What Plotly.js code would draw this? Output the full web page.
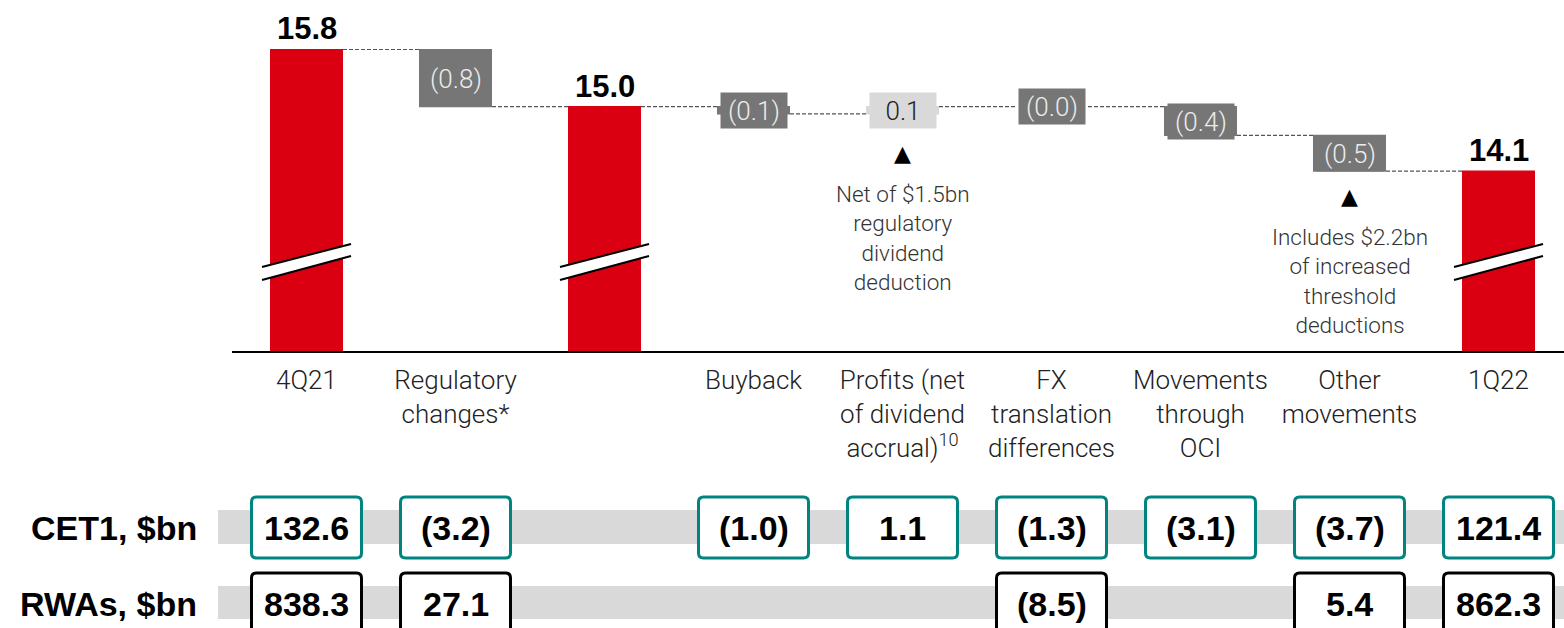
<!DOCTYPE html>
<html><head><meta charset="utf-8">
<script src="https://cdn.plot.ly/plotly-3.0.1.min.js"></script>
<style>html,body{margin:0;padding:0;background:#fff;} #chart{width:1564px;height:628px;}</style>
</head><body><div id="chart"></div>
<script>
// ---- data ----
const categories = ['4Q21', 'Regulatory<br>changes*', '', 'Buyback', 'Profits (net<br>of dividend<br>accrual)<sup>10</sup>', 'FX<br>translation<br>differences', 'Movements<br>through<br>OCI', 'Other<br>movements', '1Q22'];
const measures = ['absolute', 'relative', 'total', 'relative', 'relative', 'relative', 'relative', 'relative', 'total'];
const cet1Ratio = [15.8, -0.8, 15.0, -0.1, 0.1, -0.0, -0.4, -0.5, 14.1];
const cet1Values = [132.6, -3.2, null, -1.0, 1.1, -1.3, -3.1, -3.7, 121.4];
const rwaValues = [838.3, 27.1, null, null, null, -8.5, null, 5.4, 862.3];
const rowLabels = ['CET1, $bn', 'RWAs, $bn'];
const noteCols = [4, 7];
const noteTexts = ['Net of $1.5bn<br>regulatory<br>dividend<br>deduction', 'Includes $2.2bn<br>of increased<br>threshold<br>deductions'];

// ---- helpers ----
const fmt = v => (v < 0 || Object.is(v, -0)) ? '(' + Math.abs(v).toFixed(1) + ')' : v.toFixed(1);
const xs = categories.map((_, i) => i);
const tickIdx = xs.filter(i => categories[i] !== '');

const RED = '#DB0011', DGREY = '#767676', LGREY = '#D9D9D9', TEAL = '#00847F';
const LIGHT = {family: 'Roboto, "Open Sans", sans-serif', weight: 300};
const BOLD = {family: '"Liberation Sans", Arial, sans-serif', weight: 700};

const H = 628, W = 1564, L = 232;
const plotH = 351;
const pxPerUnit = 71.5;
const yTop = 15.8 + 49.5 / pxPerUnit;
const yBot = 15.8 - (plotH - 49.5) / pxPerUnit;
const xPx = 149; // px per category

// running levels
let level = 0;
const starts = [], ends = [];
cet1Ratio.forEach((v, i) => {
  if (measures[i] === 'absolute') { starts.push(0); level = v; ends.push(v); }
  else if (measures[i] === 'total') { starts.push(0); ends.push(level); }
  else { starts.push(level); level = level + v; ends.push(level); }
});

const annotations = [];
const shapes = [];

cet1Ratio.forEach((v, i) => {
  if (measures[i] !== 'relative') {
    annotations.push({x: i, y: ends[i], xref: 'x', yref: 'y', text: '<b>' + fmt(ends[i]) + '</b>',
      showarrow: false, yanchor: 'bottom', yshift: 1, font: {...BOLD, size: 31, color: '#000'}});
    // axis-break marks
    const hx = 89 / 2 / xPx;
    const p2v = p => 15.8 - (p - 49.5) / pxPerUnit;
    const yl1 = p2v(267), yr1 = p2v(244), yl2 = p2v(280), yr2 = p2v(256);
    shapes.push({type: 'path', xref: 'x', yref: 'y', layer: 'above', fillcolor: '#fff', line: {width: 0},
      path: `M ${i - hx},${yl1} L ${i + hx},${yr1} L ${i + hx},${yr2} L ${i - hx},${yl2} Z`});
    shapes.push({type: 'line', xref: 'x', yref: 'y', layer: 'above', x0: i - hx, y0: yl1, x1: i + hx, y1: yr1, line: {color: '#000', width: 2}});
    shapes.push({type: 'line', xref: 'x', yref: 'y', layer: 'above', x0: i - hx, y0: yl2, x1: i + hx, y1: yr2, line: {color: '#000', width: 2}});
  } else {
    const pos = !(v < 0 || Object.is(v, -0));
    annotations.push({x: i, y: (starts[i] + ends[i]) / 2, xref: 'x', yref: 'y', text: fmt(v), showarrow: false,
      width: 66, height: 35, borderpad: 0, bgcolor: pos ? LGREY : DGREY,
      font: {...LIGHT, size: 26, color: pos ? '#222' : '#ececec'}});
  }
});

noteCols.forEach((c, k) => {
  const m = (starts[c] + ends[c]) / 2;
  annotations.push({x: c, y: m, xref: 'x', yref: 'y', text: '▲', showarrow: false, yanchor: 'top', yshift: -29,
    font: {family: 'DejaVu Sans', size: 22, color: '#000'}});
  annotations.push({x: c, y: m, xref: 'x', yref: 'y', text: noteTexts[k], showarrow: false, yanchor: 'top', yshift: -69,
    align: 'center', font: {...LIGHT, size: 22.5, color: '#333'}});
});

// ---- table ----
const rows = [
  {vals: cet1Values, band: [510, 544], box: [497, 558], color: TEAL},
  {vals: rwaValues, band: [586, 619], box: [573, 634], color: '#000'}
];
const py = p => 1 - p / H;
rows.forEach((r, k) => {
  shapes.push({type: 'rect', xref: 'paper', yref: 'paper', layer: 'below', x0: (218 - L) / (W - L), x1: 1,
    y0: py(r.band[1]), y1: py(r.band[0]), fillcolor: LGREY, line: {width: 0}});
  const cy = (r.band[0] + r.band[1]) / 2 + 1;
  annotations.push({x: (199 - L) / (W - L), y: py(cy), xref: 'paper', yref: 'paper', xanchor: 'right', yanchor: 'middle', showarrow: false,
    text: '<b>' + rowLabels[k] + '</b>', font: {...BOLD, size: 34, color: '#000'}});
  r.vals.forEach((v, i) => {
    if (v === null) return;
    const hw = 55 / xPx, rx = 5 / xPx, ry = 5 / H;
    const x0 = i - hw, x1 = i + hw, yT = py(r.box[0]), yB = py(r.box[1]);
    shapes.push({type: 'path', xref: 'x', yref: 'paper', layer: 'above', fillcolor: '#fff', line: {color: r.color, width: 3},
      path: `M ${x0 + rx},${yT} L ${x1 - rx},${yT} Q ${x1},${yT} ${x1},${yT - ry} L ${x1},${yB + ry} Q ${x1},${yB} ${x1 - rx},${yB} L ${x0 + rx},${yB} Q ${x0},${yB} ${x0},${yB + ry} L ${x0},${yT - ry} Q ${x0},${yT} ${x0 + rx},${yT} Z`});
    annotations.push({x: i, y: py(cy), xref: 'x', yref: 'paper', xanchor: 'center', yanchor: 'middle', showarrow: false, text: '<b>' + fmt(v) + '</b>',
      font: {...BOLD, size: 34, color: '#000'}});
  });
});

const trace = {
  type: 'waterfall', x: xs, y: cet1Ratio, measure: measures, width: 0.49,
  textinfo: 'none', hoverinfo: 'skip',
  totals: {marker: {color: RED, line: {width: 0}}},
  decreasing: {marker: {color: DGREY, line: {width: 0}}},
  increasing: {marker: {color: LGREY, line: {width: 0}}},
  connector: {mode: 'between', line: {color: '#555', width: 1.2, dash: '4px,2px'}}
};

const layout = {
  width: W, height: H, margin: {l: L, r: 0, t: 0, b: 0},
  paper_bgcolor: '#fff', plot_bgcolor: '#fff', showlegend: false,
  xaxis: {range: [-0.5, (W - L) / xPx - 0.5], tickvals: tickIdx, ticktext: tickIdx.map(i => categories[i]), ticks: '', showgrid: false, zeroline: false,
    showline: true, linecolor: '#000', linewidth: 2, ticklabelstandoff: 5, tickfont: {...LIGHT, size: 26, color: '#222'}, fixedrange: true},
  yaxis: {range: [yBot, yTop], domain: [1 - plotH / H, 1], visible: false, fixedrange: true},
  annotations: annotations, shapes: shapes
};

Plotly.newPlot('chart', [trace], layout, {displayModeBar: false, staticPlot: true});
</script></body></html>
